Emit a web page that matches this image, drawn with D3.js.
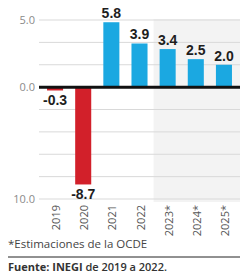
<!DOCTYPE html>
<html>
<head>
<meta charset="utf-8">
<script src="https://cdn.jsdelivr.net/npm/d3@7"></script>
<style>
  body { margin: 0; background: #fff; }
  svg { display: block; }
</style>
</head>
<body>
<div id="chart"></div>
<script>
// datos del grafico
var years = ["2019", "2020", "2021", "2022", "2023*", "2024*", "2025*"];
var growth = [-0.3, -8.7, 5.8, 3.9, 3.4, 2.5, 2.0];
var gridValues = [6, 4, 2, 0, -2, -4, -6, -8, -10];
var tickValues = [6, 0, -10];
var tickLabels = ["5.0", "0.0", "10.0"];
var firstEstimate = "2023*";
var note = "*Estimaciones de la OCDE";

var width = 245, height = 277;
var plotLeft = 39, plotRight = 240, plotTop = 20, plotBottom = 199;

var svg = d3.select("#chart").append("svg")
  .attr("width", width)
  .attr("height", height);

var x = d3.scaleBand().domain(years).range([plotLeft + 1, plotRight - 1])
  .paddingInner(0.43).paddingOuter(0.25);
var y = d3.scaleLinear().domain([-10, 6]).range([plotBottom, plotTop]);

// zona de estimaciones
var shadeX = x(firstEstimate) - x.step() * x.paddingInner() / 2;
svg.append("rect")
  .attr("x", shadeX)
  .attr("y", y(6) - 1)
  .attr("width", plotRight - shadeX)
  .attr("height", y(-10) - y(6) + 4)
  .attr("fill", "#f3f3f3");

// lineas de la rejilla
svg.selectAll(".grid")
  .data(gridValues).enter()
  .append("line")
  .attr("class", "grid")
  .attr("x1", plotLeft).attr("x2", plotRight)
  .attr("y1", function(d) { return y(d); })
  .attr("y2", function(d) { return y(d); })
  .attr("stroke", "#d9d9d9")
  .attr("stroke-width", 1);

svg.selectAll(".tick")
  .data(tickValues).enter()
  .append("text")
  .attr("class", "tick")
  .attr("x", plotLeft - 4)
  .attr("y", function(d) { return y(d) + 4; })
  .attr("text-anchor", "end")
  .attr("font-family", "Open Sans")
  .attr("font-size", 11)
  .attr("fill", "#8a8a8a")
  .text(function(d, i) { return tickLabels[i]; });

// barras
var bars = years.map(function(d, i) { return { year: d, value: growth[i] }; });

svg.selectAll(".bar")
  .data(bars).enter()
  .append("rect")
  .attr("class", "bar")
  .attr("x", function(d) { return x(d.year); })
  .attr("width", x.bandwidth())
  .attr("y", function(d) { return y(Math.max(0, d.value)); })
  .attr("height", function(d) { return Math.abs(y(d.value) - y(0)); })
  .attr("fill", function(d) { return d.value < 0 ? "#d2202a" : "#1ba8e1"; });

svg.selectAll(".val")
  .data(bars).enter()
  .append("text")
  .attr("class", "val")
  .attr("x", function(d) { return x(d.year) + x.bandwidth() / 2; })
  .attr("y", function(d) { return d.value < 0 ? y(d.value) + 15 : y(d.value) - 4; })
  .attr("text-anchor", "middle")
  .attr("font-family", "Liberation Sans, Arial, sans-serif")
  .attr("font-weight", "bold")
  .attr("font-size", 14)
  .attr("fill", "#1e1e1e")
  .text(function(d) { return d.value.toFixed(1); });

// linea del cero
svg.append("line")
  .attr("x1", plotLeft).attr("x2", plotRight)
  .attr("y1", y(0)).attr("y2", y(0))
  .attr("stroke", "#111")
  .attr("stroke-width", 3);

// etiquetas de los anios
svg.selectAll(".year")
  .data(years).enter()
  .append("text")
  .attr("class", "year")
  .attr("transform", function(d) {
    return "translate(" + (x(d) + x.bandwidth() / 2 + 5) + "," + 205 + ") rotate(-90)";
  })
  .attr("text-anchor", "end")
  .attr("font-family", "Open Sans")
  .attr("font-size", 11)
  .attr("fill", "#555")
  .text(function(d) { return d; });

// notas
svg.append("text")
  .attr("x", 8).attr("y", 248)
  .attr("font-family", "Open Sans")
  .attr("font-size", 11.5)
  .attr("fill", "#444")
  .text(note);

svg.append("line")
  .attr("x1", 8).attr("x2", plotRight)
  .attr("y1", 257).attr("y2", 257)
  .attr("stroke", "#222")
  .attr("stroke-width", 1);

var src = svg.append("text")
  .attr("x", 8).attr("y", 271)
  .attr("font-family", "Open Sans")
  .attr("font-size", 11)
  .attr("fill", "#333");
src.append("tspan").attr("font-weight", "bold").text("Fuente: INEGI");
src.append("tspan").attr("font-weight", "600").text(" de 2019 a 2022.");
</script>
</body>
</html>
